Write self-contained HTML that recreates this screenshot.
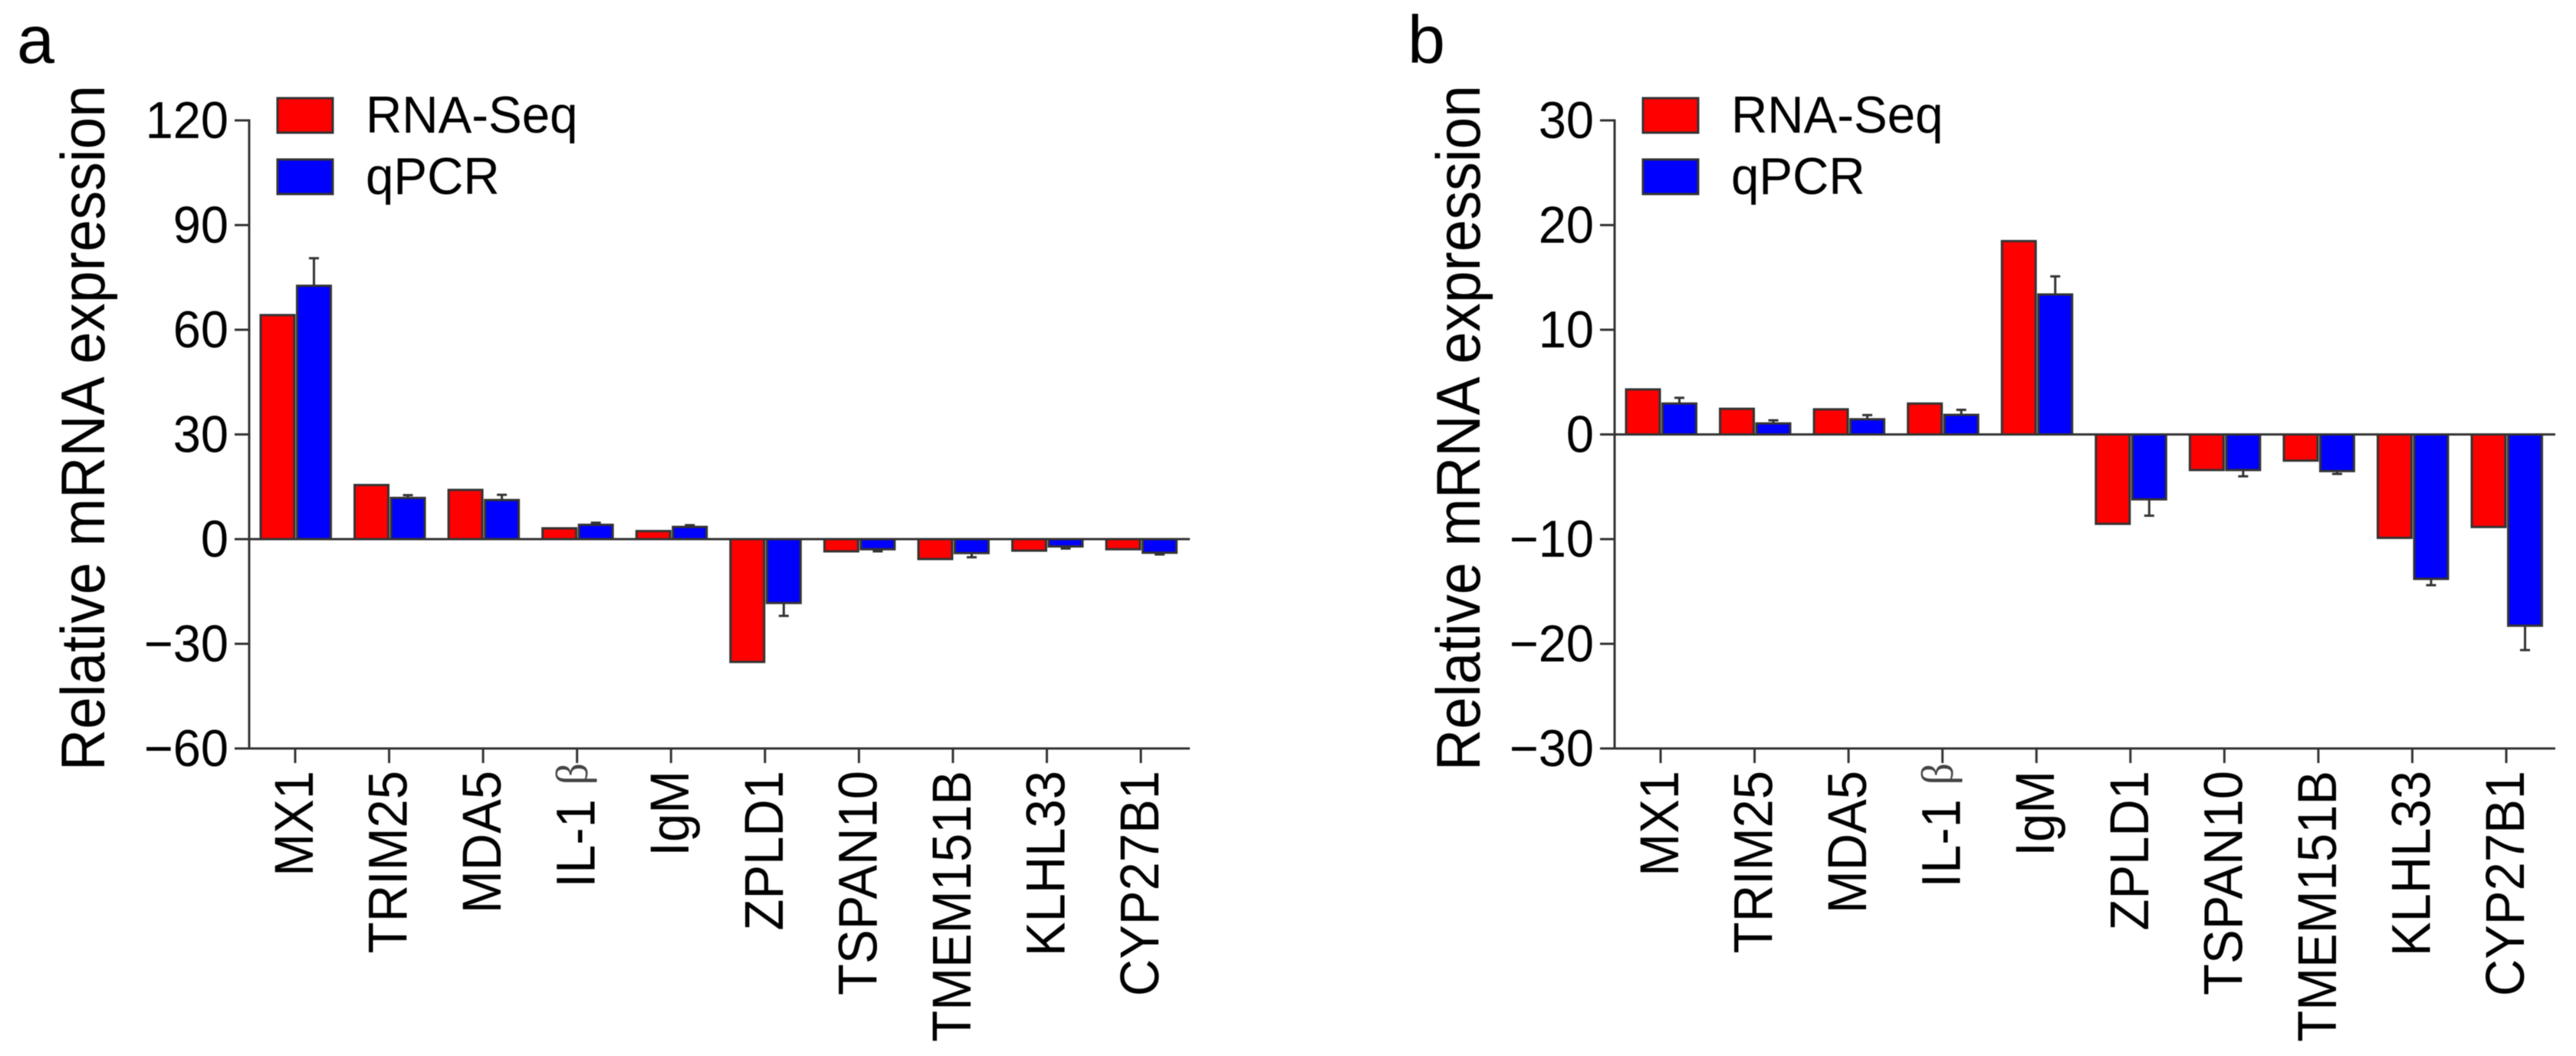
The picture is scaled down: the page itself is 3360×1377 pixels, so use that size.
<!DOCTYPE html>
<html lang="en">
<head>
<meta charset="utf-8">
<title>Relative mRNA expression: RNA-Seq vs qPCR</title>
<style>
  html, body { margin: 0; padding: 0; background: #fff; }
  svg { display: block; font-family: "Liberation Sans", Arial, sans-serif; fill: #000; filter: blur(0.6px); }
</style>
</head>
<body>
<svg id="figure" xmlns="http://www.w3.org/2000/svg" width="3360" height="1377" viewBox="0 0 3360 1377">
  <rect x="0" y="0" width="3360" height="1377" fill="#fff"/>
  <text x="22" y="82" font-size="88">a</text>
  <text x="1836" y="82" font-size="88">b</text>
  <g id="panel-a"></g>
  <g id="panel-b"></g>
</svg>
<script>
const categories = ['MX1', 'TRIM25', 'MDA5', 'IL-1 β', 'IgM', 'ZPLD1', 'TSPAN10', 'TMEM151B', 'KLHL33', 'CYP27B1'];
const seriesNames = ['RNA-Seq', 'qPCR'];

const panelARnaSeq = [64.2, 15.5, 14.1, 3.1, 2.3, -35.2, -3.5, -5.7, -3.3, -2.9];
const panelAQpcr = [72.6, 11.8, 11.2, 4.1, 3.5, -18.3, -2.9, -4.0, -2.1, -3.9];
const panelAQpcrError = [7.9, 0.8, 1.5, 0.6, 0.5, 3.7, 0.6, 1.2, 0.6, 0.5];
const panelATicks = [120, 90, 60, 30, 0, -30, -60];

const panelBRnaSeq = [4.3, 2.45, 2.4, 2.95, 18.47, -8.54, -3.4, -2.5, -9.88, -8.84];
const panelBQpcr = [2.95, 1.05, 1.45, 1.87, 13.37, -6.2, -3.4, -3.5, -13.8, -18.27];
const panelBQpcrError = [0.55, 0.3, 0.4, 0.48, 1.73, 1.56, 0.6, 0.27, 0.6, 2.33];
const panelBTicks = [30, 20, 10, 0, -10, -20, -30];

const NS = 'http://www.w3.org/2000/svg';
const AXIS = '#333';

function svgEl(parent, tag) {
  const el = document.createElementNS(NS, tag);
  parent.appendChild(el);
  return el;
}

function setAll(el, attrs) {
  for (const key in attrs) el.setAttribute(key, attrs[key]);
}

function drawPanel(root, offset, titleX, rnaSeq, qpcr, qpcrError, ticks) {
  const top = 157, bottom = 976;
  const axisX = 325 + offset;
  const rightX = 1552 + offset;
  const dMax = Math.max(...ticks), dMin = Math.min(...ticks);
  const yScale = v => bottom - (v - dMin) * (bottom - top) / (dMax - dMin);
  const xScale = i => 385 + offset + i * 122.56;
  const zero = yScale(0);

  categories.forEach((name, i) => {
    const c = xScale(i);

    const red = svgEl(root, 'rect');
    
    
    setAll(red, { x: c - 45, y: Math.min(yScale(rnaSeq[i]), zero), width: 44,
      height: Math.abs(yScale(rnaSeq[i]) - zero), fill: '#ff0000', stroke: AXIS, 'stroke-width': 3 });

    const blue = svgEl(root, 'rect');
    
    
    setAll(blue, { x: c + 2.5, y: Math.min(yScale(qpcr[i]), zero), width: 44,
      height: Math.abs(yScale(qpcr[i]) - zero), fill: '#0000ff', stroke: AXIS, 'stroke-width': 3 });

    const sign = qpcr[i] >= 0 ? 1 : -1;
    const errEnd = yScale(qpcr[i] + sign * qpcrError[i]);
    const ex = c + 24.5;

    const whisker = svgEl(root, 'line');
    
    
    setAll(whisker, { x1: ex, x2: ex, y1: yScale(qpcr[i]), y2: errEnd, stroke: AXIS, 'stroke-width': 3 });

    const cap = svgEl(root, 'line');
    
    
    setAll(cap, { x1: ex - 6.5, x2: ex + 6.5, y1: errEnd, y2: errEnd, stroke: AXIS, 'stroke-width': 3 });

    const tick = svgEl(root, 'line');
    
    
    setAll(tick, { x1: c, x2: c, y1: bottom, y2: 995, stroke: AXIS, 'stroke-width': 3 });

    const label = svgEl(root, 'text');
    
    
    setAll(label, { 'text-anchor': 'end', 'font-size': 67,
      transform: 'translate(' + (c + 23) + ',' + (name.includes('β') ? 995 : 1005) + ') rotate(-90) scale(1,1.06)' });
    if (name.includes('β')) {
      label.appendChild(document.createTextNode(name.replace('β', '')));
      const greek = svgEl(label, 'tspan');
      setAll(greek, { 'font-family': '"Liberation Serif", serif', 'font-size': 56, dy: -9, fill: '#444' });
      greek.textContent = 'β';
    } else {
      label.textContent = name;
    }
  });

  const zeroLine = svgEl(root, 'line');
  
  
  setAll(zeroLine, { x1: axisX, x2: rightX, y1: zero, y2: zero, stroke: AXIS, 'stroke-width': 3 });

  const xAxis = svgEl(root, 'line');
  
  
  setAll(xAxis, { x1: axisX, x2: rightX, y1: bottom, y2: bottom, stroke: AXIS, 'stroke-width': 3 });

  const yAxis = svgEl(root, 'line');
  
  
  setAll(yAxis, { x1: axisX, x2: axisX, y1: top - 1.5, y2: bottom + 1.5, stroke: AXIS, 'stroke-width': 3 });

  ticks.forEach(t => {
    const y = yScale(t);
    const tick = svgEl(root, 'line');
    
    
    setAll(tick, { x1: axisX - 19, x2: axisX, y1: y, y2: y, stroke: AXIS, 'stroke-width': 3 });

    const label = svgEl(root, 'text');
    
    
    setAll(label, { 'text-anchor': 'end', 'font-size': 65,
      transform: 'translate(' + (298 + offset) + ',' + (y + 23) + ') scale(1,1.04)' });
    label.textContent = String(t).replace('-', '\u2212');
  });

  const title = svgEl(root, 'text');
  
  
  setAll(title, { 'font-size': 77, textLength: 894, lengthAdjust: 'spacingAndGlyphs',
    transform: 'translate(' + titleX + ',1005) rotate(-90) scale(1,1.05)' });
  title.textContent = 'Relative mRNA expression';

  const swatchYs = [128, 208];
  const textYs = [173, 253];
  const swatchFills = ['#ff0000', '#0000ff'];
  seriesNames.forEach((name, i) => {
    const swatch = svgEl(root, 'rect');
    
    
    setAll(swatch, { x: 362 + offset, y: swatchYs[i], width: 72, height: 45,
      fill: swatchFills[i], stroke: AXIS, 'stroke-width': 3 });

    const entry = svgEl(root, 'text');
    
    
    setAll(entry, { 'font-size': 65.5,
      transform: 'translate(' + ((i === 0 ? 477 : 477) + offset) + ',' + textYs[i] + ') scale(1,1.03)' });
    entry.textContent = name;
  });
}

drawPanel(document.getElementById('panel-a'), 0, 136, panelARnaSeq, panelAQpcr, panelAQpcrError, panelATicks);
drawPanel(document.getElementById('panel-b'), 1781, 1930, panelBRnaSeq, panelBQpcr, panelBQpcrError, panelBTicks);
</script>
</body>
</html>
